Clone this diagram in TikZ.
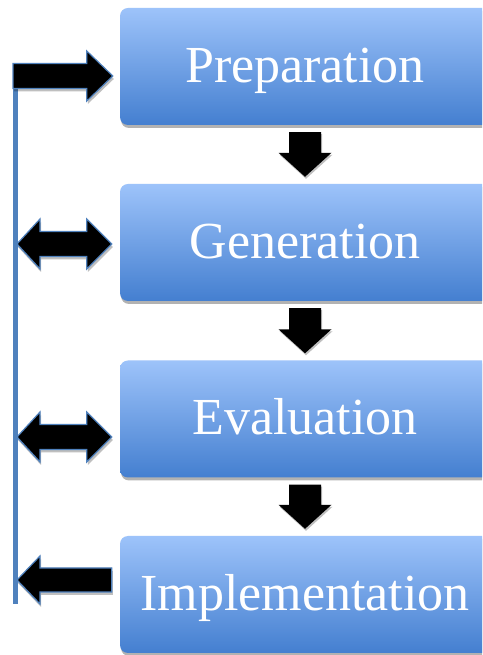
\documentclass[tikz,border=0pt]{standalone}
\usepackage{fontspec}
\setmainfont{Liberation Serif}
\usetikzlibrary{calc,shadows}
\definecolor{boxtop}{RGB}{157,195,250}
\definecolor{boxbot}{RGB}{68,127,208}
\definecolor{lineblue}{RGB}{79,129,189}
\tikzset{
  stagebox/.style={rounded corners=8pt, minimum width=370pt, minimum height=117pt,
    top color=boxtop, bottom color=boxbot, draw=none, text=white,
    font=\fontsize{52}{60}\selectfont, text height=40pt, text depth=8pt,
    inner sep=0pt, drop shadow={shadow xshift=1pt, shadow yshift=-3pt, opacity=0.3, fill=black}},
  downblock/.style={fill=black, draw=none, drop shadow={shadow xshift=1pt, shadow yshift=-2pt, opacity=0.25, fill=black}},
  sideblock/.style={fill=black, draw=lineblue, line width=1.2pt, line join=miter,
    drop shadow={shadow xshift=1pt, shadow yshift=-3pt, opacity=0.25, fill=black}},
  spine/.style={draw=lineblue, line width=5pt}
}
\begin{document}
\begin{tikzpicture}[x=1pt,y=1pt]
\clip (0,0) rectangle (482,655);
\fill[white] (0,0) rectangle (482,655);

\node[stagebox] (prep) at (305,588.5) {Preparation};
\node[stagebox] (gen)  at (305,412.5) {Generation};
\node[stagebox] (eval) at (305,236) {Evaluation};
\node[stagebox] (impl) at (305,60.5) {Implementation};

% down block arrows between stages
\foreach \a/\b in {prep/gen, gen/eval, eval/impl}{
  \path[downblock] let \p1=($(\a.south)+(0,-7pt)$), \p2=($(\b.north)+(0,7pt)$) in
    (\x1-16pt,\y1) -- (\x1+16pt,\y1) -- (\x1+16pt,\y2+24pt) -- (\x1+26.5pt,\y2+24pt)
    -- (\x1,\y2) -- (\x1-26.5pt,\y2+24pt) -- (\x1-16pt,\y2+24pt) -- cycle;
}

% spine
\coordinate (vtop) at (15.5,579);
\coordinate (vbot) at (15.5,51);
\draw[spine] (vtop) -- (vbot);

% arrow end points
\coordinate (t1) at ($(prep.west)+(-7pt,-9.5pt)$);
\coordinate (s1) at (vtop |- t1);
\coordinate (t2) at ($(gen.west)+(-8pt,-1.5pt)$);
\coordinate (s2) at ($(vtop |- t2)+(1.5pt,0)$);
\coordinate (t3) at ($(eval.west)+(-8pt,-18pt)$);
\coordinate (s3) at ($(vtop |- t3)+(1.5pt,0)$);
\coordinate (t4) at ($(impl.west)+(-8pt,14.5pt)$);
\coordinate (s4) at ($(vtop |- t4)+(1.5pt,0)$);

% right arrow: spine -> Preparation
\path[sideblock] let \p1=(s1), \p2=(t1) in
  (\x1-2.5pt,\y1+12.5pt) -- (\x2-26pt,\y1+12.5pt) -- (\x2-26pt,\y1+25pt) -- (\x2,\y1)
  -- (\x2-26pt,\y1-25pt) -- (\x2-26pt,\y1-12.5pt) -- (\x1-2.5pt,\y1-12.5pt) -- cycle;

% double arrows: spine <-> Generation, Evaluation
\foreach \s/\t in {s2/t2, s3/t3}{
  \path[sideblock] let \p1=(\s), \p2=(\t) in
    (\x1,\y1) -- (\x1+23pt,\y1+25pt) -- (\x1+23pt,\y1+12.5pt) -- (\x2-25pt,\y1+12.5pt)
    -- (\x2-25pt,\y1+25pt) -- (\x2,\y1) -- (\x2-25pt,\y1-25pt) -- (\x2-25pt,\y1-12.5pt)
    -- (\x1+23pt,\y1-12.5pt) -- (\x1+23pt,\y1-25pt) -- cycle;
}

% left arrow: Implementation -> spine
\path[sideblock] let \p1=(s4), \p2=(t4) in
  (\x1,\y1) -- (\x1+23pt,\y1+24pt) -- (\x1+23pt,\y1+12pt) -- (\x2,\y1+12pt)
  -- (\x2,\y1-12pt) -- (\x1+23pt,\y1-12pt) -- (\x1+23pt,\y1-24pt) -- cycle;
\end{tikzpicture}
\end{document}
